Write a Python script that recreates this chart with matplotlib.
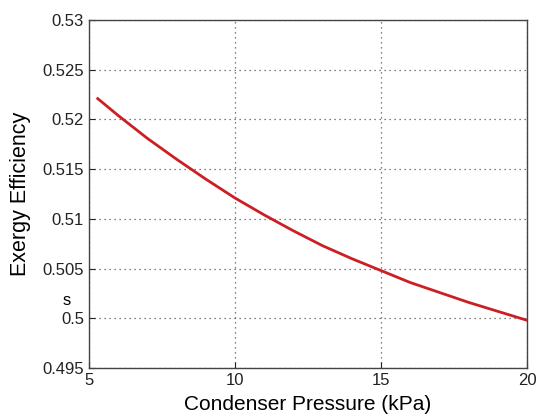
import matplotlib
matplotlib.use("Agg")
import matplotlib.pyplot as plt

# condenser pressure (kPa) vs exergy efficiency
pressure = [5.3, 6, 7, 8, 9, 10, 11, 12, 13, 14, 15, 16, 17, 18, 19, 20]
efficiency = [0.5221, 0.5204, 0.5181, 0.5160, 0.5140, 0.5121, 0.5104, 0.5088,
              0.5073, 0.5060, 0.5048, 0.5036, 0.5026, 0.5016, 0.5007, 0.4998]

x_ticks = [5, 10, 15, 20]
y_ticks = [0.495, 0.5, 0.505, 0.51, 0.515, 0.52, 0.525, 0.53]
y_labels = ["0.495", "0.5", "0.505", "0.51", "0.515", "0.52", "0.525", "0.53"]

plt.rcParams["font.family"] = ["Liberation Sans", "DejaVu Sans"]

fig = plt.figure(figsize=(5.37, 4.18), dpi=100)
ax = fig.add_axes([0.1657, 0.1196, 0.8157, 0.8324])

ax.plot(pressure, efficiency, color="#cc1f24", linewidth=2)

ax.set_xlim(5, 20)
ax.set_ylim(0.495, 0.53)
ax.set_xticks(x_ticks)
ax.set_yticks(y_ticks)
ax.set_yticklabels(y_labels)
ax.tick_params(direction="in", length=4, labelsize=12, colors="#222222")
ax.grid(True, linestyle=(0, (1, 3)), color="#555555", linewidth=0.9)
for spine in ax.spines.values():
    spine.set_color("#444444")
    spine.set_linewidth(1.0)

ax.set_xlabel("Condenser Pressure (kPa)", fontsize=15, labelpad=5)
ax.set_ylabel("Exergy Efficiency", fontsize=15.5, labelpad=8)

# stray glyph present in the original figure
fig.text(0.125, 0.28, "s", fontsize=12, ha="center", va="center")

fig.savefig("out.png", dpi=100)
